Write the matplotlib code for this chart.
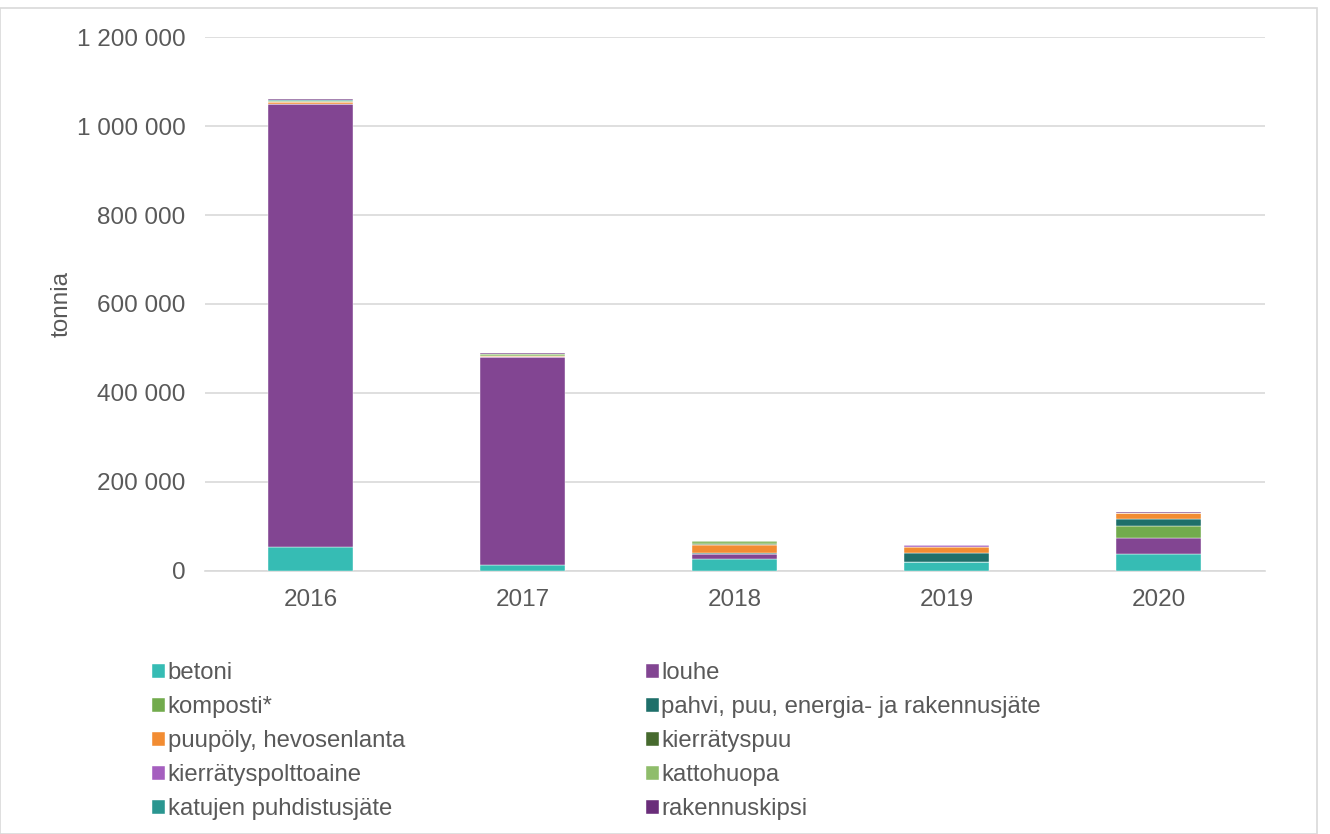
import matplotlib.pyplot as plt
import numpy as np
from matplotlib.patches import Rectangle
from matplotlib.ticker import FuncFormatter

plt.rcParams["font.family"] = ["Liberation Sans", "DejaVu Sans"]

years = ["2016", "2017", "2018", "2019", "2020"]
labels = [
    "betoni",
    "louhe",
    "komposti*",
    "pahvi, puu, energia- ja rakennusjäte",
    "puupöly, hevosenlanta",
    "kierrätyspuu",
    "kierrätyspolttoaine",
    "kattohuopa",
    "katujen puhdistusjäte",
    "rakennuskipsi",
]
colors = [
    "#36BCB4", "#824592", "#72AB4D", "#1E6F6A", "#F28C32",
    "#466A2E", "#A55FBF", "#8FBD6B", "#2A9690", "#6A2D7A",
]

betoni = [54000, 13000, 27000, 19000, 38000]
louhe = [995000, 467000, 10000, 2000, 36000]
komposti = [0, 0, 0, 0, 26000]
pahvi = [0, 0, 3500, 20000, 16000]
puupoly = [5000, 3500, 17000, 13000, 15000]
kierratyspuu = [0, 0, 3500, 0, 0]
kierratyspolttoaine = [0, 0, 0, 4500, 0]
kattohuopa = [3000, 3000, 7000, 0, 0]
katujen = [2500, 2000, 0, 0, 0]
rakennuskipsi = [2000, 1500, 0, 0, 1000]

series = [betoni, louhe, komposti, pahvi, puupoly, kierratyspuu,
          kierratyspolttoaine, kattohuopa, katujen, rakennuskipsi]

TEXT = "#595959"

fig = plt.figure(figsize=(13.3, 8.34), dpi=100)
ax = fig.add_axes([0.154, 0.3155, 0.797, 0.640])

x = np.arange(len(years))
bottom = np.zeros(len(years))
handles = []
for vals, label, color in zip(series, labels, colors):
    vals = np.array(vals, dtype=float)
    b = ax.bar(x, vals, width=0.4, bottom=bottom, color=color, label=label,
               edgecolor="white", linewidth=0.3, zorder=3)
    handles.append(b)
    bottom += vals

ax.set_ylim(0, 1200000)
ax.set_xlim(-0.5, len(years) - 0.5)
ax.set_yticks(np.arange(0, 1200001, 200000))
ax.yaxis.set_major_formatter(FuncFormatter(lambda v, _: f"{int(v):,}".replace(",", " ")))
ax.set_xticks(x)
ax.set_xticklabels(years)
ax.tick_params(axis="both", length=0, labelsize=17.5, colors=TEXT)
ax.tick_params(axis="y", pad=14)
ax.tick_params(axis="x", pad=13)
ax.grid(axis="y", color="#D9D9D9", linewidth=1.2, zorder=0)
ax.set_axisbelow(True)
for side in ["top", "right", "left"]:
    ax.spines[side].set_visible(False)
ax.spines["bottom"].set_color("#D9D9D9")
ax.spines["bottom"].set_linewidth(1.2)
ax.set_ylabel("tonnia", fontsize=17.5, color=TEXT, labelpad=3)

order = [0, 2, 4, 6, 8, 1, 3, 5, 7, 9]
fig.legend(
    [handles[i] for i in order],
    [labels[i] for i in order],
    loc="upper left",
    bbox_to_anchor=(0.1055, 0.220),
    ncol=2,
    frameon=False,
    fontsize=17.2,
    labelcolor=TEXT,
    handlelength=0.55,
    handleheight=0.55,
    handletextpad=0.1,
    columnspacing=10.07,
    labelspacing=0.5,
    borderpad=0,
)

fig.patches.append(Rectangle((0.0, 0.0), 0.990, 0.990, transform=fig.transFigure,
                             fill=False, edgecolor="#D9D9D9", linewidth=1.2))

fig.savefig("out.png", dpi=100)
